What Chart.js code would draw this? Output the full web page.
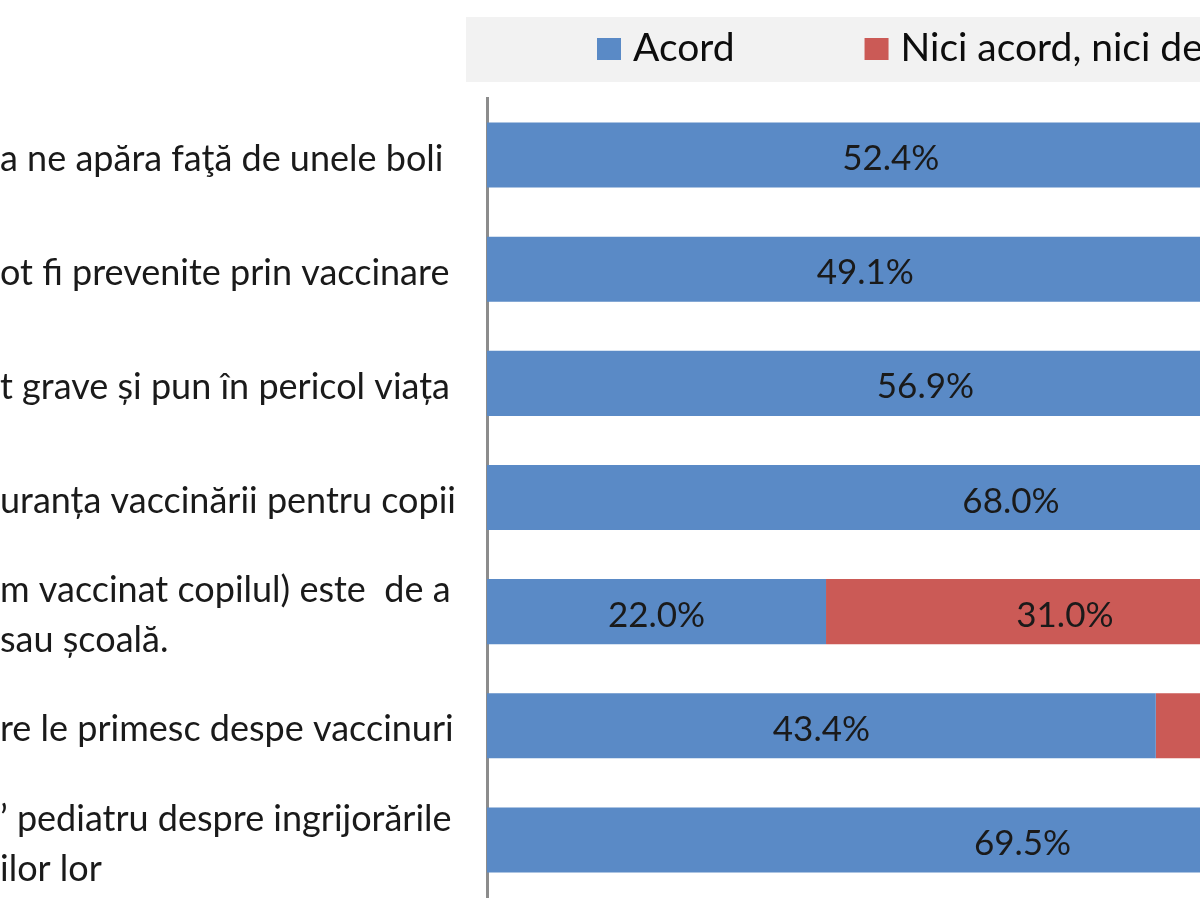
<!DOCTYPE html>
<html lang="ro">
<head>
<meta charset="utf-8">
<title>Opinii despre vaccinare</title>
<script src="https://cdn.jsdelivr.net/npm/chart.js@4.4.1/dist/chart.umd.min.js"></script>
<style>
    html, body { margin: 0; padding: 0; background: #fff; overflow: hidden; }
    #wrap { width: 2040px; height: 900px; }
</style>
</head>
<body>
<div id="wrap"><canvas id="chart" width="2040" height="900"></canvas></div>
<script>
// Category labels as they appear in the (cropped) picture
const categories = [
    'a ne apăra faţă de unele boli',
    'ot fi prevenite prin vaccinare',
    't grave și pun în pericol viața',
    'uranța vaccinării pentru copii',
    ['m vaccinat copilul) este  de a', 'sau școală.'],
    're le primesc despe vaccinuri',
    ['’ pediatru despre ingrijorările', 'ilor lor']
];

const seriesNames = ['Acord', 'Nici acord, nici dezacord', 'Dezacord'];

// Percentages per statement
const acord = [52.4, 49.1, 56.9, 68.0, 22.0, 43.4, 69.5];
const neutru = [28.6, 31.5, 25.3, 20.4, 31.0, 34.9, 19.2];   // only row 5 readable, rest estimated
const dezacord = [19.0, 19.4, 17.8, 11.6, 47.0, 21.7, 11.3]; // outside the crop, estimated

const valueLabels = {
    id: 'valueLabels',
    afterDatasetsDraw(chart) {
        const ctx = chart.ctx;
        ctx.save();
        ctx.font = '35px Lato';
        ctx.fillStyle = '#1a1a1a';
        ctx.textAlign = 'center';
        ctx.textBaseline = 'alphabetic';
        chart.data.datasets.forEach((ds, di) => {
            const meta = chart.getDatasetMeta(di);
            meta.data.forEach((bar, i) => {
                const cx = (bar.x + bar.base) / 2;
                ctx.fillText(ds.data[i].toFixed(1) + '%', cx, bar.y + 15);
            });
        });
        ctx.restore();
    }
};

// Excel style legend with grey fill
const legendBox = {
    id: 'legendBox',
    afterDraw(chart) {
        const ctx = chart.ctx;
        ctx.save();
        ctx.fillStyle = '#f2f2f2';
        ctx.fillRect(466, 17, 1560, 65);
        ctx.font = '39px Lato';
        ctx.textBaseline = 'alphabetic';
        let x = 597;
        chart.data.datasets.forEach(ds => {
            ctx.fillStyle = ds.backgroundColor;
            ctx.fillRect(x, 38, 24, 22);
            ctx.fillStyle = '#0d0d0d';
            ctx.fillText(ds.label, x + 36, 61);
            x += 36 + ctx.measureText(ds.label).width + 130;
        });
        ctx.restore();
    }
};

new Chart(document.getElementById('chart'), {
    type: 'bar',
    data: {
        labels: categories,
        datasets: [
            { label: seriesNames[0], data: acord, backgroundColor: '#5a8ac6' },
            { label: seriesNames[1], data: neutru, backgroundColor: '#cb5a56' },
            { label: seriesNames[2], data: dezacord, backgroundColor: '#9bbb59' }
        ]
    },
    options: {
        indexAxis: 'y',
        responsive: false,
        animation: false,
        devicePixelRatio: 1,
        layout: { padding: { top: 98, bottom: 3, left: 0, right: 12 } },
        datasets: { bar: { categoryPercentage: 1, barPercentage: 0.57 } },
        scales: {
            x: { stacked: true, display: false, min: 0, max: 100 },
            y: {
                stacked: true,
                grid: { display: false, drawTicks: false },
                border: { display: true, color: '#8c8c8c', width: 3 },
                ticks: {
                    crossAlign: 'far',
                    autoSkip: false,
                    padding: 0,
                    labelOffset: 4,
                    color: '#1a1a1a',
                    font: { family: 'Lato', size: 36, lineHeight: 1.39 }
                },
                afterFit(scale) {
                    scale.width = 487;
                    scale.paddingTop = 0;
                    scale.paddingBottom = 0;
                }
            }
        },
        plugins: {
            legend: { display: false },
            tooltip: { enabled: false }
        }
    },
    plugins: [valueLabels, legendBox]
});
</script>
</body>
</html>
